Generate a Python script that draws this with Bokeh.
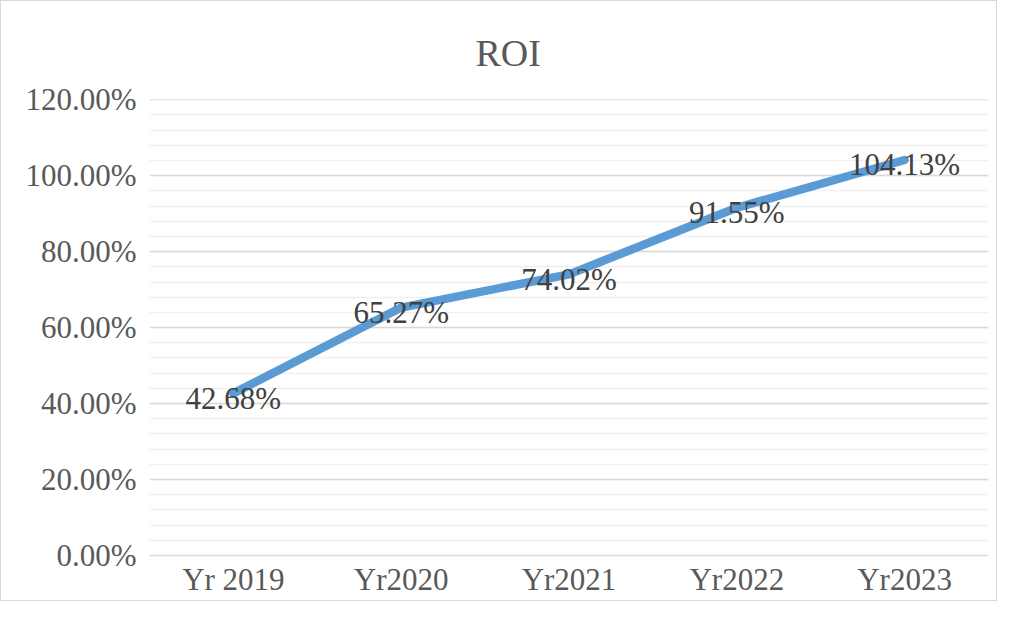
from bokeh.plotting import figure
from bokeh.models import FactorRange, Range1d, FixedTicker, NumeralTickFormatter, ColumnDataSource
from bokeh.core.properties import value
from bokeh.embed import file_html
from bokeh.resources import INLINE

title_text = "ROI"
categories = ["Yr 2019", "Yr2020", "Yr2021", "Yr2022", "Yr2023"]
roi = [0.4268, 0.6527, 0.7402, 0.9155, 1.0413]
labels = [f"{v*100:.2f}%" for v in roi]
major_ticks = [0.0, 0.2, 0.4, 0.6, 0.8, 1.0, 1.2]
minor_ticks = [i * 0.04 for i in range(31)]

FONT = "Liberation Serif"
TXT = "#595959"

src = ColumnDataSource(dict(cat=categories, roi=roi, label=labels))

p = figure(width=997, height=601, x_range=FactorRange(*categories), y_range=Range1d(0, 1.2005),
           output_backend="svg", toolbar_location=None,
           min_border_left=148, min_border_right=10, min_border_top=98, min_border_bottom=47)
p.outline_line_color = None
p.styles = {"border": "1px solid #d9d9d9"}

p.title.text = title_text
p.title.text_font = FONT
p.title.text_font_size = "38px"
p.title.text_font_style = "normal"
p.title.text_color = TXT
p.title.align = "left"
p.title.offset = 326
p.title.vertical_align = "middle"
p.title.standoff = 50

p.yaxis.ticker = FixedTicker(ticks=major_ticks, minor_ticks=minor_ticks)
p.yaxis.formatter = NumeralTickFormatter(format="0.00%")
p.yaxis.axis_line_color = None
p.yaxis.major_tick_line_color = None
p.yaxis.minor_tick_line_color = None
p.yaxis.major_label_text_font = FONT
p.yaxis.major_label_text_font_size = "31px"
p.yaxis.major_label_text_color = TXT
p.yaxis.major_label_standoff = 7

p.xaxis.axis_line_color = "#d9d9d9"
p.xaxis.axis_line_width = 1.5
p.xaxis.major_tick_line_color = None
p.xaxis.minor_tick_line_color = None
p.xaxis.major_label_text_font = FONT
p.xaxis.major_label_text_font_size = "31px"
p.xaxis.major_label_text_color = TXT
p.xaxis.major_label_standoff = 0

p.xgrid.grid_line_color = None
p.ygrid.grid_line_color = "#d9d9d9"
p.ygrid.grid_line_width = 1.5
p.ygrid.minor_grid_line_color = "#f0f0f0"
p.ygrid.minor_grid_line_width = 1.5

p.line("cat", "roi", source=src, line_color="#5b9bd5", line_width=8.5, line_cap="round", line_join="round")
p.text("cat", "roi", text="label", source=src, text_font=value(FONT), text_font_size="31px",
       text_color="#404040", text_align="center", text_baseline="middle", y_offset=5)

open("out.html", "w").write(file_html(p, INLINE))
